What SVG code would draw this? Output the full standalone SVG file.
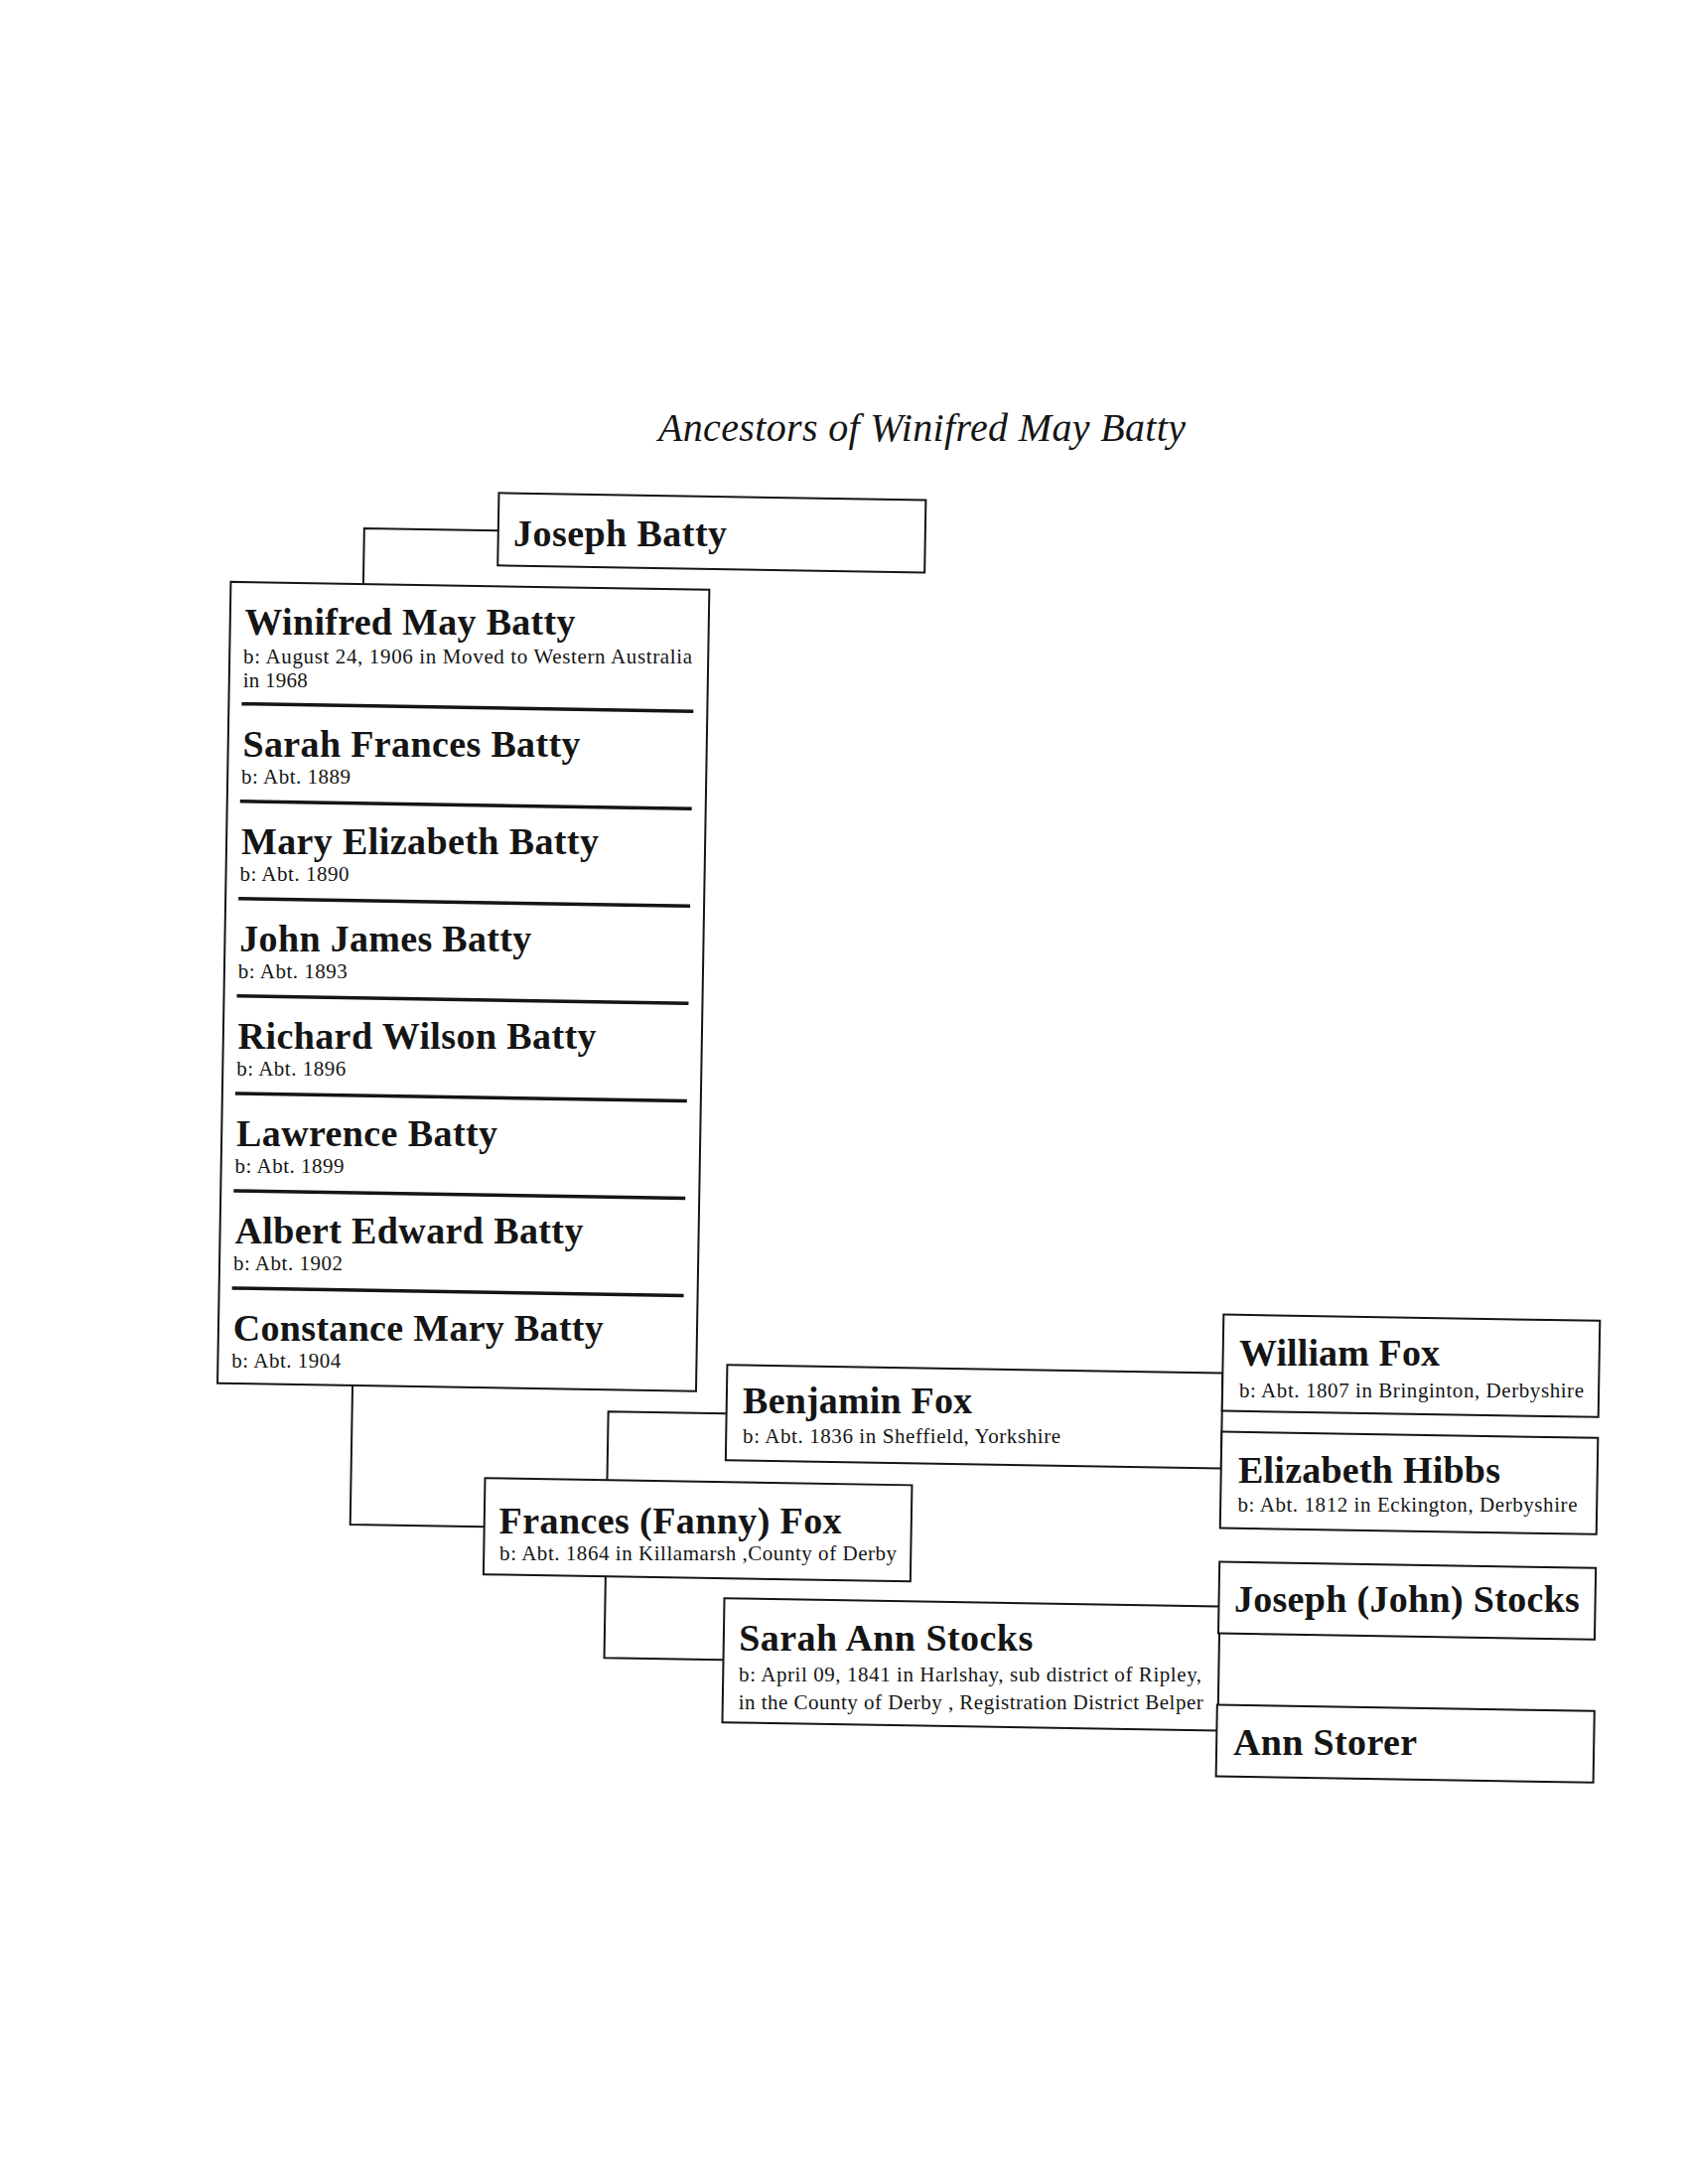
<svg xmlns="http://www.w3.org/2000/svg" width="1699" height="2199" viewBox="0 0 1699 2199">
<style>
.box{fill:#fff;stroke:#151515;stroke-width:2}
.sep{stroke:#151515;stroke-width:3.5}
.conn{fill:none;stroke:#151515;stroke-width:2}
.name{font-family:"Liberation Serif","Times New Roman",serif;font-weight:bold;font-size:38px;fill:#151515}
.info{font-family:"Liberation Serif","Times New Roman",serif;font-size:21px;fill:#151515}
.title{font-family:"Liberation Serif","Times New Roman",serif;font-style:italic;font-size:40px;fill:#151515}
</style>
<rect x="0" y="0" width="1699" height="2199" fill="#fff"/>
<text class="title" x="663" y="444" textLength="531">Ancestors of Winifred May Batty</text>

<g id="connectors" transform="rotate(0.95 900 1100)">
<path class="conn" d="M492.5 541 H357.5 V597"/>
<path class="conn" d="M360 1404 V1544 H495"/>
<path class="conn" d="M618 1495 V1426 H737"/>
<path class="conn" d="M618 1592 V1674 H738"/>
</g>

<g id="joseph-batty">
<rect class="box" x="492.5" y="503" width="430" height="73" transform="rotate(0.95 900 1100)"/>
<text class="name" x="517" y="550" textLength="215">Joseph Batty</text>
</g>

<g id="winifred-siblings">
<g transform="rotate(0.95 900 1100)">
<rect class="box" x="224" y="597" width="482" height="807"/>
<line class="sep" x1="237" y1="719.6" x2="692" y2="719.6"/>
<line class="sep" x1="237" y1="817.7" x2="692" y2="817.7"/>
<line class="sep" x1="237" y1="915.7" x2="692" y2="915.7"/>
<line class="sep" x1="237" y1="1013.8" x2="692" y2="1013.8"/>
<line class="sep" x1="237" y1="1111.9" x2="692" y2="1111.9"/>
<line class="sep" x1="237" y1="1210" x2="692" y2="1210"/>
<line class="sep" x1="237" y1="1308" x2="692" y2="1308"/>
</g>
<g id="winifred">
<text class="name" x="246.5" y="639.1" textLength="333">Winifred May Batty</text>
<text class="info" x="245.1" y="667.6" textLength="452">b: August 24, 1906 in Moved to Western Australia</text>
<text class="info" x="244.7" y="691.6" textLength="65">in 1968</text>
</g>
<g id="sarah-frances">
<text class="name" x="244.5" y="761.7" textLength="340">Sarah Frances Batty</text>
<text class="info" x="243.1" y="789.1" textLength="110">b: Abt. 1889</text>
</g>
<g id="mary-elizabeth">
<text class="name" x="242.9" y="859.8" textLength="360">Mary Elizabeth Batty</text>
<text class="info" x="241.4" y="887" textLength="110">b: Abt. 1890</text>
</g>
<g id="john-james">
<text class="name" x="241.3" y="957.8" textLength="294">John James Batty</text>
<text class="info" x="239.8" y="985" textLength="110">b: Abt. 1893</text>
</g>
<g id="richard-wilson">
<text class="name" x="239.6" y="1055.8" textLength="361">Richard Wilson Batty</text>
<text class="info" x="238.2" y="1083.2" textLength="110">b: Abt. 1896</text>
</g>
<g id="lawrence">
<text class="name" x="238" y="1153.9" textLength="263">Lawrence Batty</text>
<text class="info" x="236.6" y="1181.3" textLength="110">b: Abt. 1899</text>
</g>
<g id="albert-edward">
<text class="name" x="236.4" y="1252" textLength="351">Albert Edward Batty</text>
<text class="info" x="234.9" y="1279.4" textLength="110">b: Abt. 1902</text>
</g>
<g id="constance-mary">
<text class="name" x="234.8" y="1350" textLength="373">Constance Mary Batty</text>
<text class="info" x="233.3" y="1377.4" textLength="110">b: Abt. 1904</text>
</g>
</g>

<g id="frances-fox">
<rect class="box" x="495" y="1495" width="430" height="97" transform="rotate(0.95 900 1100)"/>
<text class="name" x="502.6" y="1543.5" textLength="345">Frances (Fanny) Fox</text>
<text class="info" x="503.1" y="1571" textLength="400">b: Abt. 1864 in Killamarsh ,County of Derby</text>
</g>

<g id="benjamin-fox">
<rect class="box" x="737" y="1377" width="499" height="96" transform="rotate(0.95 900 1100)"/>
<text class="name" x="748.1" y="1423" textLength="231">Benjamin Fox</text>
<text class="info" x="748.1" y="1453" textLength="320">b: Abt. 1836 in Sheffield, Yorkshire</text>
</g>

<g id="sarah-ann-stocks">
<rect class="box" x="738" y="1612" width="499" height="125" transform="rotate(0.95 900 1100)"/>
<text class="name" x="744.2" y="1662" textLength="296">Sarah Ann Stocks</text>
<text class="info" x="744.1" y="1693" textLength="466">b: April 09, 1841 in Harlshay, sub district of Ripley,</text>
<text class="info" x="743.7" y="1721" textLength="468">in the County of Derby , Registration District Belper</text>
</g>

<g id="william-fox">
<rect class="box" x="1236" y="1318" width="379" height="97" transform="rotate(0.95 900 1100)"/>
<text class="name" x="1248" y="1374.8" textLength="202">William Fox</text>
<text class="info" x="1248" y="1406.8" textLength="347">b: Abt. 1807 in Bringinton, Derbyshire</text>
</g>

<g id="elizabeth-hibbs">
<rect class="box" x="1236" y="1436" width="379" height="97" transform="rotate(0.95 900 1100)"/>
<text class="name" x="1247" y="1492.8" textLength="264">Elizabeth Hibbs</text>
<text class="info" x="1246.5" y="1521.8" textLength="342">b: Abt. 1812 in Eckington, Derbyshire</text>
</g>

<g id="joseph-john-stocks">
<rect class="box" x="1236" y="1567" width="379" height="72" transform="rotate(0.95 900 1100)"/>
<text class="name" x="1242.9" y="1622.8" textLength="348">Joseph (John) Stocks</text>
</g>

<g id="ann-storer">
<rect class="box" x="1236" y="1711" width="380" height="72" transform="rotate(0.95 900 1100)"/>
<text class="name" x="1242" y="1766.8" textLength="185">Ann Storer</text>
</g>
</svg>
